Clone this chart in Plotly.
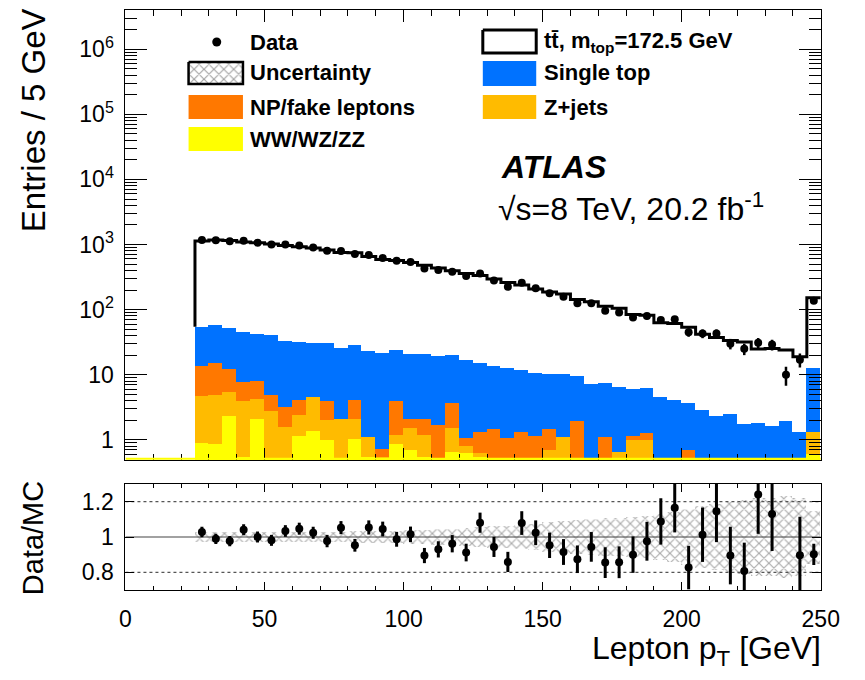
import numpy as np
import plotly.graph_objects as go

W, H = 865, 680

# ---------------- data (45 bins of 5 GeV, 25-250 GeV) ----------------
bin_centers = [27.5 + 5 * i for i in range(45)]

data_counts = [1168, 1160, 1127, 1138, 1062, 1002, 1002, 968, 902, 801,
               796, 713, 689, 618, 562, 537, 430, 405, 382, 328,
               360, 280, 224, 259, 212, 178, 158, 125, 125, 96,
               90, 76, 80, 69, 71, 45, 43, 43, 30, 25,
               31, 29, 10, 17, 137]
data_err = [34.2, 34.1, 33.6, 33.7, 32.6, 31.7, 31.7, 31.1, 30.0, 28.3,
            28.2, 26.7, 26.2, 24.9, 23.7, 23.2, 20.7, 20.1, 19.5, 18.1,
            19.0, 16.7, 15.0, 16.1, 14.6, 13.3, 12.6, 11.2, 11.2, 9.8,
            9.5, 8.7, 8.9, 8.3, 8.4, 6.7, 6.6, 6.6, 5.5, 5.0,
            5.6, 5.4, 3.2, 4.1, 11.7]

ttbar = [1081, 1115, 1101, 1047, 1020, 981, 936, 893, 850, 790,
         730, 719, 631, 569, 545, 508, 459, 416, 377, 343,
         318, 283, 248, 228, 196, 177, 163, 133, 125, 105,
         99, 78, 76, 58, 57, 50, 39, 35, 31, 30,
         23, 23.6, 22, 17.5, 139]
single_top = [41.1, 42.1, 39.6, 38.0, 33.8, 35.4, 30.2, 28.1, 26.6, 26.4,
              23.9, 24.5, 21.8, 21.1, 19.8, 18.5, 18.5, 17.7, 16.1, 15.8,
              13.7, 12.1, 11.5, 10.3, 9.3, 8.8, 9.1, 7.6, 6.6, 6.3,
              5.75, 4.84, 4.92, 4.1, 3.6, 2.96, 2.4, 1.83, 1.98, 1.26,
              1.3, 1.16, 1.48, 0.81, 11.47]
np_fake = [8.87, 10.4, 6.6, 3.84, 3.8, 2.1, 1.6, 1.7, 0, 1.93,
           0, 2.02, 0, 0.18, 2.77, 0.53, 0.88, 1.17, 2.19, 0.27,
           0.72, 0.93, 0.58, 0.83, 0.66, 0.76, 0, 1.48, 0, 0.62,
           0, 0.18, 0.3, 0, 0, 0.19, 0, 0, 0, 0,
           0, 0, 0, 0, 0]
zjets = [3.84, 4.04, 3.14, 3.42, 2.1, 2.3, 1.1, 1.25, 3.13, 1.03,
         1.57, 1.04, 0.57, 0.05, 0.32, 0.84, 0.64, 0.03, 0.86, 0.18,
         0.07, 0.03, 0, 0, 0, 0.2, 0.62, 0, 0, 0,
         0.15, 0.48, 0.48, 0, 0, 0, 0, 0, 0, 0,
         0, 0, 0, 0, 0.72]
diboson = [0.89, 0.86, 2.36, 0.54, 2.1, 0.5, 0.5, 1.15, 1.37, 1.0,
           0.5, 1.04, 0.55, 0.5, 0.87, 0.70, 0.55, 0.5, 0.65, 0.63,
           0.55, 0.5, 0.5, 0.5, 0.5, 0.5, 0.5, 0.5, 0.5, 0.5,
           0.5, 0.5, 0.5, 0.5, 0.5, 0.5, 0.5, 0.5, 0.5, 0.5,
           0.5, 0.5, 0.5, 0.5, 0.61]

ratio = [1.028, 0.990, 0.977, 1.041, 1.000, 0.981, 1.034, 1.047, 1.024, 0.977,
         1.053, 0.953, 1.054, 1.045, 0.987, 1.015, 0.895, 0.930, 0.962, 0.912,
         1.081, 0.944, 0.859, 1.079, 1.024, 0.953, 0.915, 0.874, 0.944, 0.855,
         0.857, 0.900, 0.976, 1.088, 1.165, 0.827, 1.013, 1.146, 0.895, 0.807,
         1.240, 1.130, 0.42, 0.897, 0.902]
ratio_err = [0.030, 0.029, 0.029, 0.031, 0.031, 0.031, 0.033, 0.034, 0.034, 0.035,
             0.037, 0.036, 0.040, 0.042, 0.042, 0.044, 0.043, 0.046, 0.049, 0.050,
             0.057, 0.057, 0.057, 0.067, 0.070, 0.072, 0.073, 0.078, 0.084, 0.087,
             0.090, 0.103, 0.110, 0.131, 0.139, 0.123, 0.154, 0.175, 0.163, 0.161,
             0.222, 0.209, 0.13, 0.218, 0.060]
unc_rel = [0.03, 0.03, 0.03, 0.03, 0.03, 0.03, 0.03, 0.03, 0.03, 0.03,
           0.03, 0.032, 0.034, 0.035, 0.036, 0.04, 0.042, 0.045, 0.048, 0.05,
           0.055, 0.06, 0.065, 0.07, 0.075, 0.085, 0.09, 0.095, 0.10, 0.105,
           0.11, 0.115, 0.12, 0.13, 0.14, 0.16, 0.175, 0.185, 0.20, 0.21,
           0.22, 0.22, 0.23, 0.22, 0.15]

# ---------------- styles ----------------
C_ST = "#0072FF"
C_NP = "#FF7800"
C_Z = "#FFBB00"
C_WW = "#FFFF00"
FONT = "Liberation Sans, Arial, Helvetica, sans-serif"

def px(x):
    return x / W

def py(y):
    return 1 - y / H

X0, X1 = 123, 839
MAIN_T, MAIN_B = 10, 460
RAT_T, RAT_B = 484, 590

# cumulative stack
c_ww = np.array(diboson)
c_z = c_ww + np.array(zjets)
c_np = c_z + np.array(np_fake)
c_st = c_np + np.array(single_top)
c_tot = c_st + np.array(ttbar)

fig = go.Figure()

for vals, col, name in [(c_st, C_ST, "Single top"), (c_np, C_NP, "NP/fake leptons"),
                        (c_z, C_Z, "Z+jets"), (c_ww, C_WW, "WW/WZ/ZZ")]:
    fig.add_trace(go.Bar(x=bin_centers, y=vals, width=5, marker=dict(color=col, line=dict(width=0)),
                         name=name, showlegend=False, xaxis="x", yaxis="y"))

# ttbar outline (top of stack)
edges_x = [25] + [25 + 5 * i for i in range(45)] + [250]
edges_y = [c_st[0]] + list(c_tot) + [c_tot[-1]]
fig.add_trace(go.Scatter(x=edges_x, y=edges_y, mode="lines", line=dict(color="black", width=3, shape="hv"),
                         showlegend=False, xaxis="x", yaxis="y"))

# data
fig.add_trace(go.Scatter(x=bin_centers, y=data_counts, mode="markers",
                         marker=dict(color="black", size=8),
                         error_y=dict(type="data", array=data_err, color="black", thickness=2.5, width=0),
                         showlegend=False, xaxis="x", yaxis="y"))

# ratio band
u = np.array(unc_rel)
fig.add_trace(go.Bar(x=bin_centers, y=2 * u, base=1 - u, width=5,
                     marker=dict(color="rgba(0,0,0,0)", line=dict(width=0),
                                 pattern=dict(shape="x", fgcolor="#555555", bgcolor="rgba(0,0,0,0)",
                                              size=7, solidity=0.3)),
                     showlegend=False, xaxis="x2", yaxis="y2"))
fig.add_trace(go.Scatter(x=bin_centers, y=ratio, mode="markers",
                         marker=dict(color="black", size=8),
                         error_y=dict(type="data", array=ratio_err, color="black", thickness=3, width=0),
                         showlegend=False, xaxis="x2", yaxis="y2"))

# ---------------- legend (drawn on an overlay pixel axis) ----------------
def box(x0, y0, x1, y1, **kw):
    return go.Scatter(x=[x0, x1, x1, x0, x0], y=[y0, y0, y1, y1, y0], mode="lines",
                      fill="toself", showlegend=False, hoverinfo="skip",
                      xaxis="x3", yaxis="y3", **kw)

fig.add_trace(go.Scatter(x=[217], y=[42], mode="markers", marker=dict(color="black", size=9),
                         showlegend=False, xaxis="x3", yaxis="y3"))
fig.add_trace(box(188, 62, 244, 84, line=dict(color="black", width=2.5), fillcolor="white",
                  fillpattern=dict(shape="x", fgcolor="#444444", bgcolor="white", size=7, solidity=0.3)))
fig.add_trace(box(188, 95, 244, 119, line=dict(width=0, color=C_NP), fillcolor=C_NP))
fig.add_trace(box(188, 127, 244, 151, line=dict(width=0, color=C_WW), fillcolor=C_WW))
fig.add_trace(box(491, 30, 546, 53, line=dict(color="black", width=3), fillcolor="white"))
fig.add_trace(box(491, 61, 546, 86, line=dict(width=0, color=C_ST), fillcolor=C_ST))
fig.add_trace(box(491, 95, 546, 119, line=dict(width=0, color=C_Z), fillcolor=C_Z))

annotations = []
def txt(x, y, s, size, xanchor="left", yanchor="middle", angle=0):
    annotations.append(dict(x=px(x), y=py(y), xref="paper", yref="paper", text=s, showarrow=False,
                            xanchor=xanchor, yanchor=yanchor, textangle=angle, borderpad=0,
                            font=dict(family=FONT, size=size, color="black")))

LS = 22
txt(250, 42, "<b>Data</b>", LS)
txt(250, 73, "<b>Uncertainty</b>", LS)
txt(250, 107, "<b>NP/fake leptons</b>", LS)
txt(250, 140, "<b>WW/WZ/ZZ</b>", LS)
txt(553, 42, "<b>tt\u0304, m<sub>top</sub>=172.5 GeV</b>", LS)
txt(553, 73, "<b>Single top</b>", LS)
txt(553, 107, "<b>Z+jets</b>", LS)

txt(509, 167, "<b><i>ATLAS</i></b>", 32)
txt(506, 207, "\u221as=8 TeV, 20.2 fb<sup>-1</sup>", 32)

txt(28, 120, "Entries / 5 GeV", 33, xanchor="center", angle=-90)
txt(28, 538, "Data/MC", 29, xanchor="center", angle=-90)
txt(840, 650, "Lepton p<sub>T</sub> [GeV]", 32, xanchor="right")

shapes = [
    dict(type="line", xref="x2", yref="y2", x0=0, x1=250, y0=1, y1=1,
         line=dict(color="#444444", width=1.2), layer="below"),
    dict(type="line", xref="x2", yref="y2", x0=0, x1=250, y0=1.2, y1=1.2,
         line=dict(color="#555555", width=1.2, dash="dot"), layer="below"),
    dict(type="line", xref="x2", yref="y2", x0=0, x1=250, y0=0.8, y1=0.8,
         line=dict(color="#555555", width=1.2, dash="dot"), layer="below"),
    dict(type="line", xref="x", yref="y domain", x0=0, x1=250, y0=0.003, y1=0.003,
         line=dict(color=C_WW, width=2), layer="above"),
]

ytv = [1, 10, 100, 1e3, 1e4, 1e5, 1e6]
ytt = ["1", "10", "10<sup>2</sup>", "10<sup>3</sup>", "10<sup>4</sup>", "10<sup>5</sup>", "10<sup>6</sup>"]
yminor = [m * 10.0 ** k for k in range(-1, 7) for m in range(2, 10)]
yminor = [v for v in yminor if 0.49 < v < 4e6 and v not in ytv]

tickfont = dict(family=FONT, size=23, color="black")
common_x = dict(range=[0, 250], showgrid=False, zeroline=False, showline=True, linecolor="black",
                linewidth=1, mirror="allticks", ticks="inside", tickcolor="black", dtick=50, tick0=0)

fig.update_layout(
    width=W, height=H, margin=dict(l=0, r=0, t=0, b=0), autosize=False,
    paper_bgcolor="white", plot_bgcolor="rgba(0,0,0,0)",
    barmode="overlay", bargap=0, showlegend=False,
    xaxis=dict(domain=[px(X0), px(X1)], anchor="y", showticklabels=False, ticklen=12,
               minor=dict(ticks="inside", ticklen=6, dtick=10, tickcolor="black"), **common_x),
    yaxis=dict(domain=[py(MAIN_B), py(MAIN_T)], anchor="x", type="log", range=[np.log10(0.49), np.log10(4e6)],
               tickvals=ytv, ticktext=ytt, ticks="inside", ticklen=22, tickcolor="black",
               minor=dict(ticks="inside", ticklen=12, tickvals=yminor, tickcolor="black"),
               showline=True, linecolor="black", linewidth=1, mirror="allticks",
               showgrid=False, zeroline=False, tickfont=tickfont, ticklabelstandoff=6),
    xaxis2=dict(domain=[px(X0), px(X1)], anchor="y2", ticklen=8, tickfont=tickfont, ticklabelstandoff=8,
                minor=dict(ticks="inside", ticklen=4, dtick=10, tickcolor="black"), **common_x),
    yaxis2=dict(domain=[py(RAT_B), py(RAT_T)], anchor="x2", range=[0.7, 1.3],
                tickvals=[0.8, 1, 1.2], ticktext=["0.8", "1", "1.2"], ticks="inside", ticklen=9,
                tickcolor="black", showline=True, linecolor="black", linewidth=1, mirror="allticks",
                showgrid=False, zeroline=False, tickfont=tickfont, ticklabelstandoff=6),
    xaxis3=dict(domain=[0, 1], range=[0, W], visible=False, anchor="y3", fixedrange=True),
    yaxis3=dict(domain=[0, 1], range=[H, 0], visible=False, anchor="x3", fixedrange=True),
    annotations=annotations, shapes=shapes,
)

fig.write_html(
    "out.html",
    config={"responsive": False, "displayModeBar": False},
    post_script="document.documentElement.style.overflow='hidden';"
                "document.body.style.margin='0';document.body.style.overflow='hidden';",
)
